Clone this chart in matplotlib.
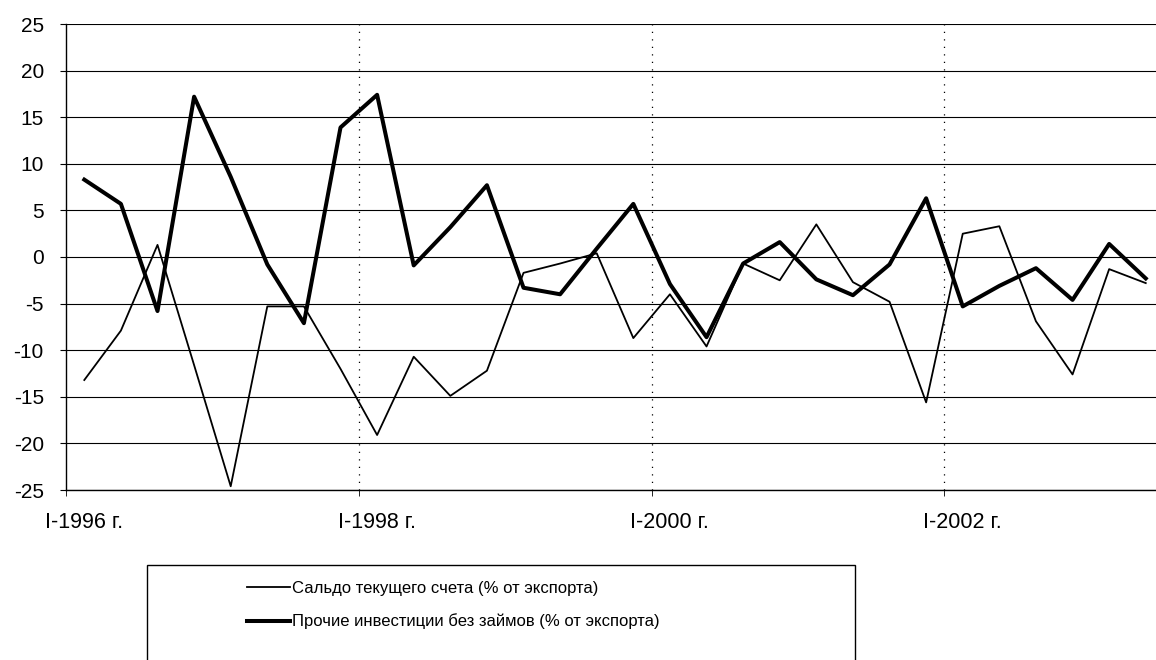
import matplotlib
matplotlib.use("Agg")
import matplotlib.pyplot as plt
from matplotlib.patches import Rectangle

plt.rcParams['font.family'] = ['Liberation Sans', 'DejaVu Sans']
plt.rcParams['axes.unicode_minus'] = False

# Квартальные данные: I-1996 ... II-2003
saldo = [-13.2, -7.9, 1.3, -11.6, -24.6, -5.3, -5.3, -12.0, -19.1, -10.7,
         -14.9, -12.2, -1.7, -0.7, 0.4, -8.7, -4.0, -9.6, -0.7, -2.5,
         3.5, -2.7, -4.8, -15.6, 2.5, 3.3, -6.9, -12.6, -1.3, -2.8]
prochie = [8.3, 5.7, -5.8, 17.2, 8.6, -0.8, -7.1, 13.9, 17.4, -0.9,
           3.2, 7.7, -3.3, -4.0, 0.9, 5.7, -2.9, -8.6, -0.7, 1.6,
           -2.4, -4.1, -0.8, 6.3, -5.3, -3.1, -1.2, -4.6, 1.4, -2.3]
x_labels = ['I-1996 г.', 'I-1998 г.', 'I-2000 г.', 'I-2002 г.']
x_label_pos = [0, 8, 16, 24]
legend_labels = ['Сальдо текущего счета (% от экспорта)',
                 'Прочие инвестиции без займов (% от экспорта)']

fig = plt.figure(figsize=(11.56, 6.6), dpi=100)
ax = fig.add_axes([66 / 1156, 1 - 490 / 660, 1 - 66 / 1156, 466 / 660])

x = list(range(len(saldo)))
l1, = ax.plot(x, saldo, color='black', linewidth=1.3)
l2, = ax.plot(x, prochie, color='black', linewidth=2.9)

ax.set_ylim(-25, 25)
ax.set_xlim(-0.5, 29.28)
ax.set_yticks(range(-25, 26, 5))
ax.yaxis.grid(True, color='black', linewidth=0.8)
for xv in [7.5, 15.5, 23.5]:
    ax.axvline(xv, color='black', linewidth=0.9, linestyle=(0, (1, 5)))

ax.set_xticks(x_label_pos)
ax.set_xticklabels(x_labels)
ax.set_xticks([-0.5, 7.5, 15.5, 23.5], minor=True)
ax.tick_params(axis='x', which='major', length=0, pad=16, labelsize=15.5)
ax.tick_params(axis='x', which='minor', length=4, direction='out', color='black')
ax.tick_params(axis='y', length=4, direction='out', pad=12, labelsize=15)

for s in ['top', 'right']:
    ax.spines[s].set_visible(False)
ax.spines['left'].set_linewidth(1.0)
ax.spines['bottom'].set_linewidth(1.0)

# рамка легенды (нижний край обрезан)
fig.patches.append(Rectangle((147 / 1156, -0.05), (855 - 147) / 1156, 0.05 + 1 - 565 / 660,
                             transform=fig.transFigure, fill=False,
                             edgecolor='black', linewidth=1.0))
fig.legend([l1, l2], legend_labels, loc='upper left',
           bbox_to_anchor=(232 / 1156, 1 - 566 / 660), frameon=False,
           fontsize=12, handlelength=2.6, handletextpad=0.1, labelspacing=1.05)

fig.savefig('out.png', dpi=100)
